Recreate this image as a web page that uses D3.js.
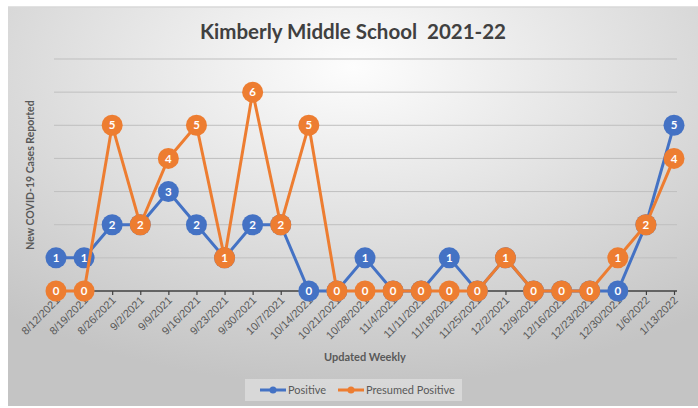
<!DOCTYPE html>
<html lang="en">
<head>
<meta charset="UTF-8">
<title>Kimberly Middle School 2021-22</title>
<script src="https://d3js.org/d3.v7.min.js"></script>
<style>
  body { margin: 0; background: #fff; }
  svg { display: block; font-family: Lato, "Open Sans", sans-serif; }
</style>
</head>
<body>
<svg id="chart" width="698" height="408"></svg>
<script>
// weekly update dates
var weeks = ["8/12/2021","8/19/2021","8/26/2021","9/2/2021","9/9/2021","9/16/2021","9/23/2021",
  "9/30/2021","10/7/2021","10/14/2021","10/21/2021","10/28/2021","11/4/2021","11/11/2021",
  "11/18/2021","11/25/2021","12/2/2021","12/9/2021","12/16/2021","12/23/2021","12/30/2021",
  "1/6/2022","1/13/2022"];
var positive = [1,1,2,2,3,2,1,2,2,0,0,1,0,0,1,0,1,0,0,0,0,2,5];
var presumed = [0,0,5,2,4,5,1,6,2,5,0,0,0,0,0,0,1,0,0,0,1,2,4];
var yTicks = [0,1,2,3,4,5,6,7];

var series = [
  {name: "Positive", values: positive, color: "#4472C4"},
  {name: "Presumed Positive", values: presumed, color: "#ED7D31"}
];

var svg = d3.select("#chart");

// background gradient like the excel chart area
var defs = svg.append("defs");
var grad = defs.append("radialGradient").attr("id", "bg")
  .attr("cx", "50%").attr("cy", "15%").attr("r", "80%");
grad.append("stop").attr("offset", "0%").attr("stop-color", "#fdfdfd");
grad.append("stop").attr("offset", "100%").attr("stop-color", "#c4c4c4");

svg.append("rect").attr("x", 8).attr("y", 7).attr("width", 690).attr("height", 399)
  .attr("fill", "url(#bg)");
svg.append("line").attr("x1", 8).attr("x2", 698).attr("y1", 7).attr("y2", 7)
  .attr("stroke", "#d9d9d9").attr("stroke-width", 1.5);

var x = d3.scalePoint().domain(weeks).range([56, 674]);
var y = d3.scaleLinear().domain([0, 7]).range([291, 59]);

// gridlines
svg.append("g").selectAll("line").data(yTicks.slice(1)).join("line")
  .attr("x1", 54).attr("x2", 677)
  .attr("y1", function(d){ return y(d); }).attr("y2", function(d){ return y(d); })
  .attr("stroke", "#bfbfbf").attr("stroke-width", 1);

// x axis
var xAxis = svg.append("g").attr("transform", "translate(0," + y(0) + ")")
  .call(d3.axisBottom(x).tickSize(4).tickSizeOuter(0));
xAxis.select(".domain").attr("stroke", "#404040").attr("stroke-width", 1.5)
  .attr("d", "M54,0H677");
xAxis.selectAll(".tick line").attr("stroke", "#404040").attr("stroke-width", 1.2);
xAxis.selectAll(".tick text")
  .attr("fill", "#595959").attr("font-size", "11px")
  .attr("text-anchor", "end")
  .attr("dy", null).attr("y", 0)
  .attr("transform", "translate(4,10) rotate(-45)");

// lines and markers
var line = d3.line()
  .x(function(d, i){ return x(weeks[i]); })
  .y(function(d){ return y(d); });

series.forEach(function(s) {
  var g = svg.append("g");
  g.append("path").datum(s.values)
    .attr("d", line)
    .attr("fill", "none")
    .attr("stroke", s.color)
    .attr("stroke-width", 3)
    .attr("stroke-linejoin", "round");
  var pts = g.selectAll("g.pt").data(s.values).join("g")
    .attr("class", "pt")
    .attr("transform", function(d, i){ return "translate(" + x(weeks[i]) + "," + y(d) + ")"; });
  pts.append("circle").attr("r", 10.5).attr("fill", s.color);
  pts.append("text").text(function(d){ return d; })
    .attr("text-anchor", "middle").attr("dy", "0.36em")
    .attr("fill", "#fff").attr("font-size", "11.5px").attr("font-weight", "bold");
});

// title
svg.append("text").attr("x", 353).attr("y", 39)
  .attr("text-anchor", "middle")
  .attr("fill", "#404040").attr("font-size", "20.5px").attr("font-weight", "bold")
  .attr("xml:space", "preserve")
  .text("Kimberly Middle School  2021-22");

// axis titles
svg.append("text")
  .attr("transform", "translate(34,175) rotate(-90)")
  .attr("text-anchor", "middle")
  .attr("fill", "#595959").attr("font-size", "10.5px").attr("font-weight", "bold")
  .text("New COVID-19 Cases Reported");

svg.append("text").attr("x", 365).attr("y", 361)
  .attr("text-anchor", "middle")
  .attr("fill", "#595959").attr("font-size", "11px").attr("font-weight", "bold")
  .text("Updated Weekly");

// legend
var legend = svg.append("g");
legend.append("rect").attr("x", 245).attr("y", 379).attr("width", 217).attr("height", 22)
  .attr("fill", "#f2f2f2").attr("fill-opacity", 0.45);
var legendX = [260, 338];
series.forEach(function(s, i) {
  var lg = legend.append("g").attr("transform", "translate(" + legendX[i] + ",390)");
  lg.append("line").attr("x1", 0).attr("x2", 26).attr("stroke", s.color).attr("stroke-width", 3);
  lg.append("circle").attr("cx", 13).attr("r", 3.5).attr("fill", s.color);
  lg.append("text").attr("x", 28).attr("dy", "0.35em")
    .attr("fill", "#595959").attr("font-size", "11px").text(s.name);
});
</script>
</body>
</html>
